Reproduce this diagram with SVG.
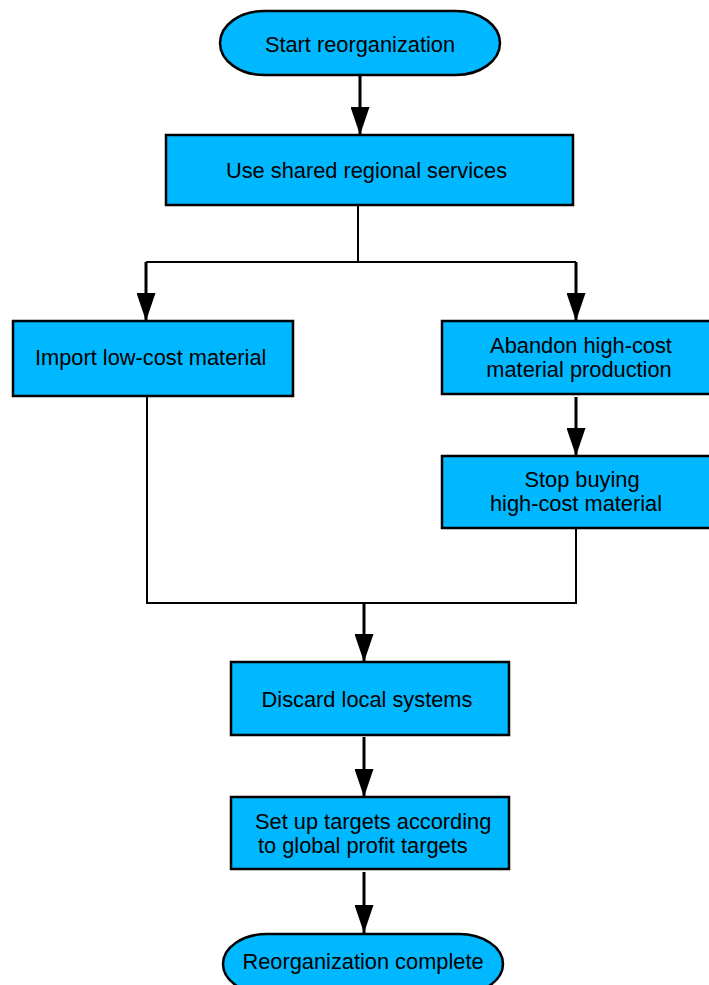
<svg xmlns="http://www.w3.org/2000/svg" width="709" height="985" viewBox="0 0 709 985">
  <style>
    .box { fill: #00b8ff; stroke: #000; stroke-width: 2.5; }
    .lbl { font-family: "Liberation Sans", Arial, sans-serif; font-size: 21.8px; fill: #000; }
    .mid { text-anchor: middle; }
    .wire { fill: none; stroke: #000; stroke-width: 2; }
    .flow { fill: none; stroke: #000; stroke-width: 3; marker-end: url(#head); }
  </style>
  <defs>
    <marker id="head" markerUnits="userSpaceOnUse" markerWidth="28" markerHeight="19" refX="28" refY="9.5" orient="auto">
      <path d="M0,0 L28,9.5 L0,19 Z" fill="#000"/>
    </marker>
  </defs>
  <rect width="709" height="985" fill="#fff"/>

  <g id="connectors">
    <path class="flow" d="M360,76 V135"/>
    <path class="wire" d="M358,205 V262 M146,262 H576"/>
    <path class="flow" d="M146,262 V321"/>
    <path class="flow" d="M576,262 V321"/>
    <path class="flow" d="M576,397 V456"/>
    <path class="wire" d="M576,529 V603 H147 V396"/>
    <path class="flow" d="M364,603 V662"/>
    <path class="flow" d="M364,737 V797"/>
    <path class="flow" d="M364,872 V933"/>
  </g>

  <g id="start">
    <rect class="box" x="220" y="11" width="280" height="64" rx="44" ry="32"/>
    <text class="lbl mid" x="360" y="51.5">Start reorganization</text>
  </g>

  <g id="shared-services">
    <rect class="box" x="166" y="135" width="407" height="70"/>
    <text class="lbl mid" x="366.5" y="177.5">Use shared regional services</text>
  </g>

  <g id="import-material">
    <rect class="box" x="13" y="321" width="280" height="75"/>
    <text class="lbl" x="35" y="365">Import low-cost material</text>
  </g>

  <g id="abandon-production">
    <rect class="box" x="442" y="321" width="272" height="73"/>
    <text class="lbl mid" x="581" y="352.5">Abandon high-cost</text>
    <text class="lbl mid" x="579" y="376.5">material production</text>
  </g>

  <g id="stop-buying">
    <rect class="box" x="442" y="456" width="272" height="72"/>
    <text class="lbl mid" x="582" y="486.5">Stop buying</text>
    <text class="lbl mid" x="576" y="510.5">high-cost material</text>
  </g>

  <g id="discard-systems">
    <rect class="box" x="231" y="662" width="278" height="73"/>
    <text class="lbl mid" x="367" y="706.5">Discard local systems</text>
  </g>

  <g id="set-targets">
    <rect class="box" x="231" y="797" width="278" height="72"/>
    <text class="lbl" x="255" y="829">Set up targets according</text>
    <text class="lbl" x="258" y="853">to global profit targets</text>
  </g>

  <g id="complete">
    <rect class="box" x="223" y="934" width="280" height="60" rx="44" ry="30"/>
    <text class="lbl mid" x="363" y="968.5">Reorganization complete</text>
  </g>
</svg>
